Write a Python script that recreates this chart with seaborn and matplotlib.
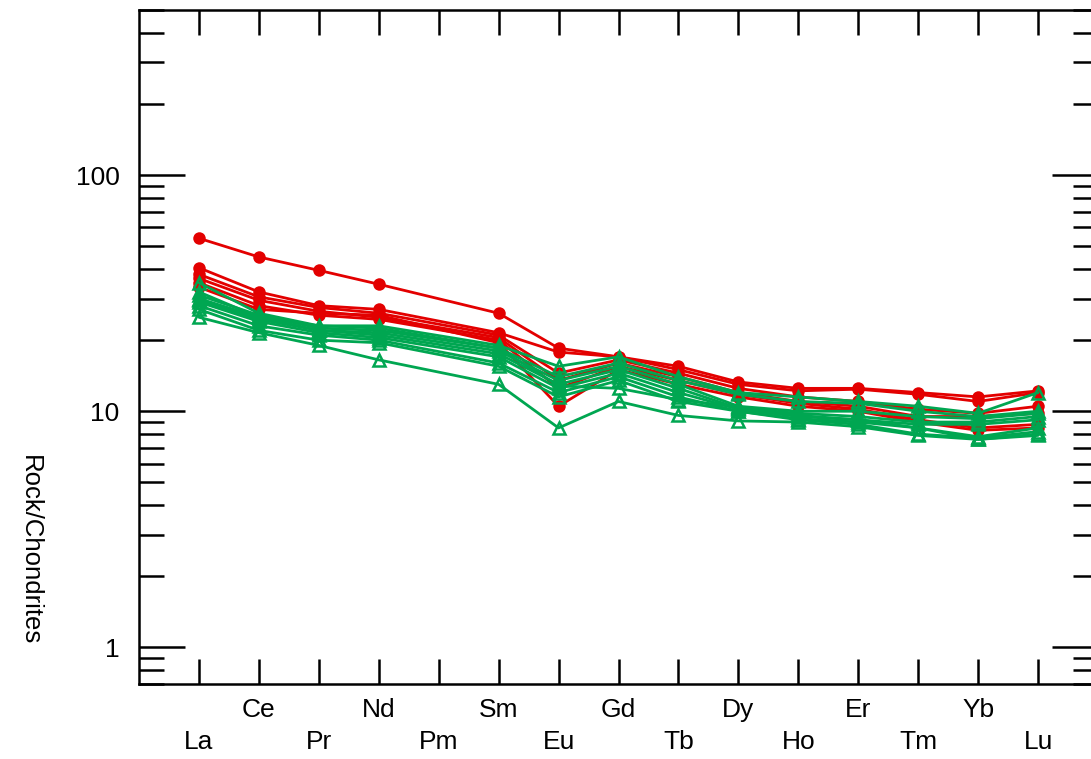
import numpy as np
import pandas as pd
import seaborn as sns
import matplotlib
matplotlib.use("Agg")
import matplotlib.pyplot as plt
from matplotlib.ticker import LogLocator, NullFormatter, FixedLocator, FixedFormatter

sns.set_style("ticks")
plt.rcParams['font.family'] = ['Liberation Sans', 'DejaVu Sans']
plt.rcParams['text.color'] = 'black'
plt.rcParams['xtick.color'] = 'black'
plt.rcParams['ytick.color'] = 'black'
plt.rcParams['axes.edgecolor'] = 'black'

# REE order (Pm has no data)
elements = ['La', 'Ce', 'Pr', 'Nd', 'Pm', 'Sm', 'Eu', 'Gd', 'Tb', 'Dy', 'Ho', 'Er', 'Tm', 'Yb', 'Lu']
measured = ['La', 'Ce', 'Pr', 'Nd', 'Sm', 'Eu', 'Gd', 'Tb', 'Dy', 'Ho', 'Er', 'Tm', 'Yb', 'Lu']

# chondrite normalised values, red group (circles)
red_1 = [54, 45, 39.5, 34.5, 26, 18.5, 17, 15.5, 13.3, 12.5, 12.5, 12, 11.5, 12.2]
red_2 = [40.5, 32, 28, 27, 21.5, 17.8, 17, 15, 13, 12.2, 12.4, 11.8, 11, 12]
red_3 = [38, 30.5, 27.5, 26, 21, 14.5, 16.5, 14.5, 12.5, 11.5, 11, 10.2, 9.8, 10.5]
red_4 = [36.5, 29.5, 26.5, 25, 20.5, 13.5, 16, 14, 12, 11, 10.5, 9.5, 9.5, 9.8]
red_5 = [35, 28, 25.5, 24.5, 20, 12.5, 15.5, 13.5, 11.8, 10.8, 10.2, 9.2, 8.5, 8.8]
red_6 = [33.5, 27, 26, 25.5, 19.5, 10.5, 15, 13, 11.5, 10.5, 10, 9, 8.3, 8.5]

# green group (triangles)
green_1 = [35, 26, 23, 23, 19, 15.5, 17, 14, 12, 11.5, 11, 10.5, 9.8, 12]
green_2 = [31, 25.5, 22.5, 22, 18.5, 14, 16, 13.5, 11.8, 11, 10.8, 10, 9.5, 10]
green_3 = [30, 25, 22, 21.5, 18, 13.5, 15.5, 13, 10.5, 10, 10, 9.5, 9.3, 9.8]
green_4 = [29.5, 24.5, 22, 21, 17.5, 13, 15, 12.5, 10.3, 9.8, 9.5, 9, 9, 9.5]
green_5 = [29, 24, 21.5, 20.5, 17, 12.5, 14.5, 12, 10.2, 9.5, 9.2, 8.8, 8.8, 9.2]
green_6 = [28, 23, 21, 20, 16, 12, 14, 11.5, 10, 9.3, 9, 8.5, 7.8, 8.5]
green_7 = [27, 22, 20, 19.5, 15.5, 11.5, 13.5, 11, 10, 9.2, 8.8, 8, 7.7, 8.2]
green_8 = [25, 21.5, 19, 16.5, 13, 8.5, 11, 9.6, 9.1, 9, 8.6, 7.9, 7.6, 8]
green_9 = [32, 25, 23, 22.5, 18.5, 12.8, 12.5, 11.2, 10.4, 9.6, 9.2, 8.5, 7.6, 7.9]

red_series = [red_1, red_2, red_3, red_4, red_5, red_6]
green_series = [green_1, green_2, green_3, green_4, green_5, green_6, green_7, green_8, green_9]

pos = {e: i + 1 for i, e in enumerate(elements)}

rows = []
for grp, series in [('red', red_series), ('green', green_series)]:
    for k, vals in enumerate(series):
        for el, v in zip(measured, vals):
            rows.append({'group': grp, 'sample': f'{grp}{k}', 'x': pos[el], 'value': v})
df = pd.DataFrame(rows)

fig = plt.figure(figsize=(10.91, 7.59), dpi=100)
ax = fig.add_axes([139 / 1091, 1 - 684 / 759, (1098 - 139) / 1091, (684 - 10) / 759])

red_col = '#e30000'
green_col = '#00a651'

sns.lineplot(data=df[df.group == 'red'], x='x', y='value', units='sample', estimator=None,
             color=red_col, marker='o', markersize=9, markeredgewidth=0, linewidth=2,
             sort=True, ax=ax, legend=False)
sns.lineplot(data=df[df.group == 'green'], x='x', y='value', units='sample', estimator=None,
             color=green_col, marker='^', markersize=8, markerfacecolor='none',
             markeredgecolor=green_col, markeredgewidth=1.8, linewidth=2,
             sort=True, ax=ax, legend=False)

ax.set_yscale('log')
ax.set_ylim(0.7, 500)
ax.set_xlim(0, 16)

ax.yaxis.set_major_locator(FixedLocator([1, 10, 100]))
ax.yaxis.set_major_formatter(FixedFormatter(['1', '10', '100']))
ax.yaxis.set_minor_locator(LogLocator(base=10, subs=np.arange(2, 10)))
ax.yaxis.set_minor_formatter(NullFormatter())

ax.set_xticks(range(1, 16))
labels = [e if i % 2 == 1 else '\n' + e for i, e in enumerate(elements)]
ax.set_xticklabels(labels, fontsize=19)
for t in ax.get_xticklabels():
    t.set_linespacing(1.45)

ax.tick_params(axis='x', which='major', direction='in', length=18, width=1.8,
               top=True, bottom=True, pad=10)
ax.tick_params(axis='y', which='major', direction='in', length=33, width=1.8,
               left=True, right=True, labelsize=19, pad=14)
ax.tick_params(axis='y', which='minor', direction='in', length=18, width=1.8,
               left=True, right=True)

for s in ax.spines.values():
    s.set_linewidth(1.8)
    s.set_color('black')
    s.set_visible(True)

ax.set_xlabel('')
ax.set_ylabel('')
fig.text(30 / 1091, 1 - 550 / 759, 'Rock/Chondrites', rotation=270, fontsize=18.5,
         ha='center', va='center')

fig.savefig('out.png', dpi=100)
